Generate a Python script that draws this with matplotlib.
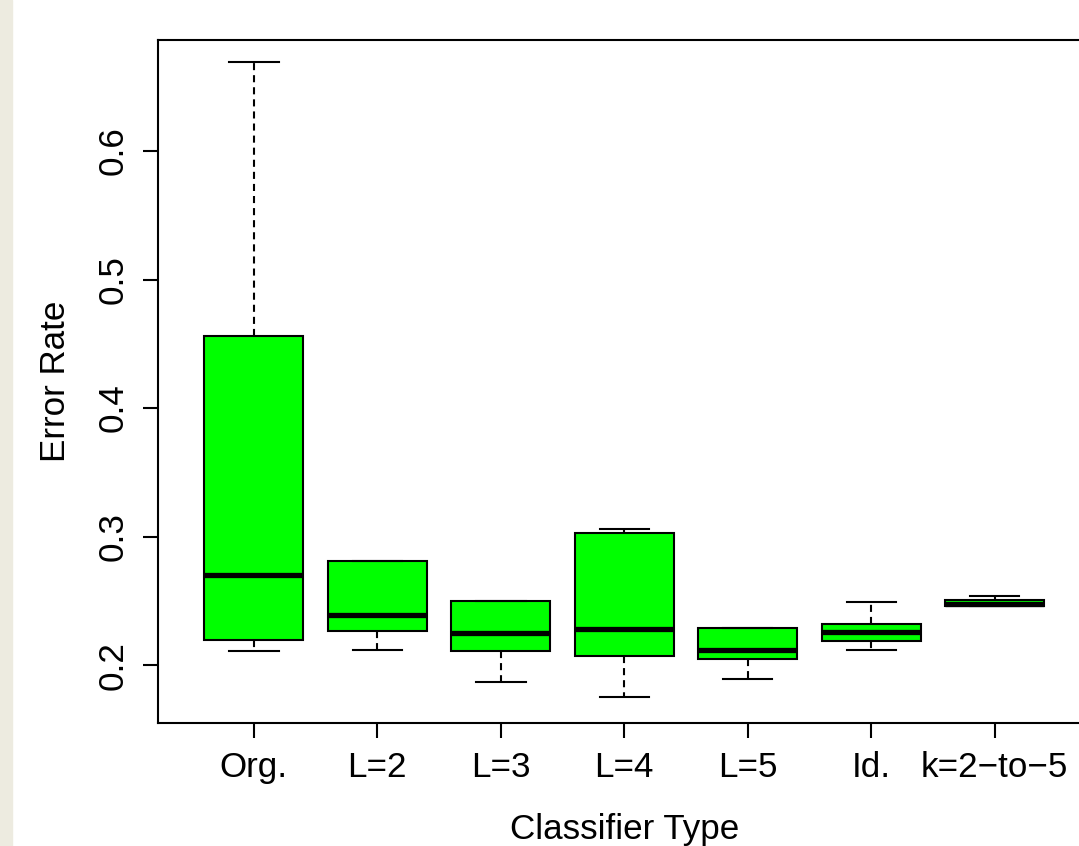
import matplotlib.pyplot as plt
from matplotlib.patches import Rectangle

# box statistics (error rate per classifier)
labels = ["Org.", "L=2", "L=3", "L=4", "L=5", "Id.", "k=2\u2212to\u22125"]
whislo = [0.211, 0.212, 0.187, 0.175, 0.189, 0.212, 0.246]
q1 = [0.220, 0.227, 0.211, 0.207, 0.205, 0.219, 0.246]
med = [0.270, 0.239, 0.225, 0.228, 0.212, 0.226, 0.248]
q3 = [0.456, 0.281, 0.250, 0.303, 0.229, 0.232, 0.251]
whishi = [0.669, 0.281, 0.250, 0.306, 0.229, 0.249, 0.254]
yticks = [0.2, 0.3, 0.4, 0.5, 0.6]

plt.rcParams['font.family'] = ['Liberation Sans', 'DejaVu Sans']
plt.rcParams['font.size'] = 25.2

fig = plt.figure(figsize=(10.79, 8.46), dpi=100)
# beige strip on the left edge
fig.add_artist(Rectangle((0, 0), 12 / 1079, 1, transform=fig.transFigure,
                         color='#EDEBE0', zorder=0))

# axes run past the right edge of the picture, as in the reference
ax = fig.add_axes([0.146, 0.1448, 0.8652, 0.8085])

stats = []
for i in range(len(labels)):
    stats.append(dict(label=labels[i], whislo=whislo[i], q1=q1[i], med=med[i],
                      q3=q3[i], whishi=whishi[i], fliers=[]))

pos = list(range(1, len(labels) + 1))
lw = 1.5
ax.bxp(stats, positions=pos, widths=0.8, capwidths=0.4, patch_artist=True,
       showfliers=False,
       boxprops=dict(facecolor='#00FF00', edgecolor='black', linewidth=lw),
       medianprops=dict(color='black', linewidth=3.8, solid_capstyle='butt'),
       whiskerprops=dict(color='black', linewidth=lw, linestyle=(0, (3.4, 2.4))),
       capprops=dict(color='black', linewidth=lw))

n = len(labels)
ax.set_xlim(0.5 - 0.04 * n, n + 0.5 + 0.04 * n)
ax.set_ylim(0.1547, 0.6867)

ax.set_yticks(yticks)
ax.set_yticklabels([str(v) for v in yticks], rotation=90, va='center')
ax.set_xticks(pos)
ax.set_xticklabels(labels)
ax.tick_params(direction='out', length=11, width=lw, pad=9, colors='black')
for s in ax.spines.values():
    s.set_linewidth(lw)

ax.set_xlabel("Classifier Type", labelpad=21)
ax.set_ylabel("Error Rate", labelpad=18)

fig.savefig("out.png", dpi=100)
